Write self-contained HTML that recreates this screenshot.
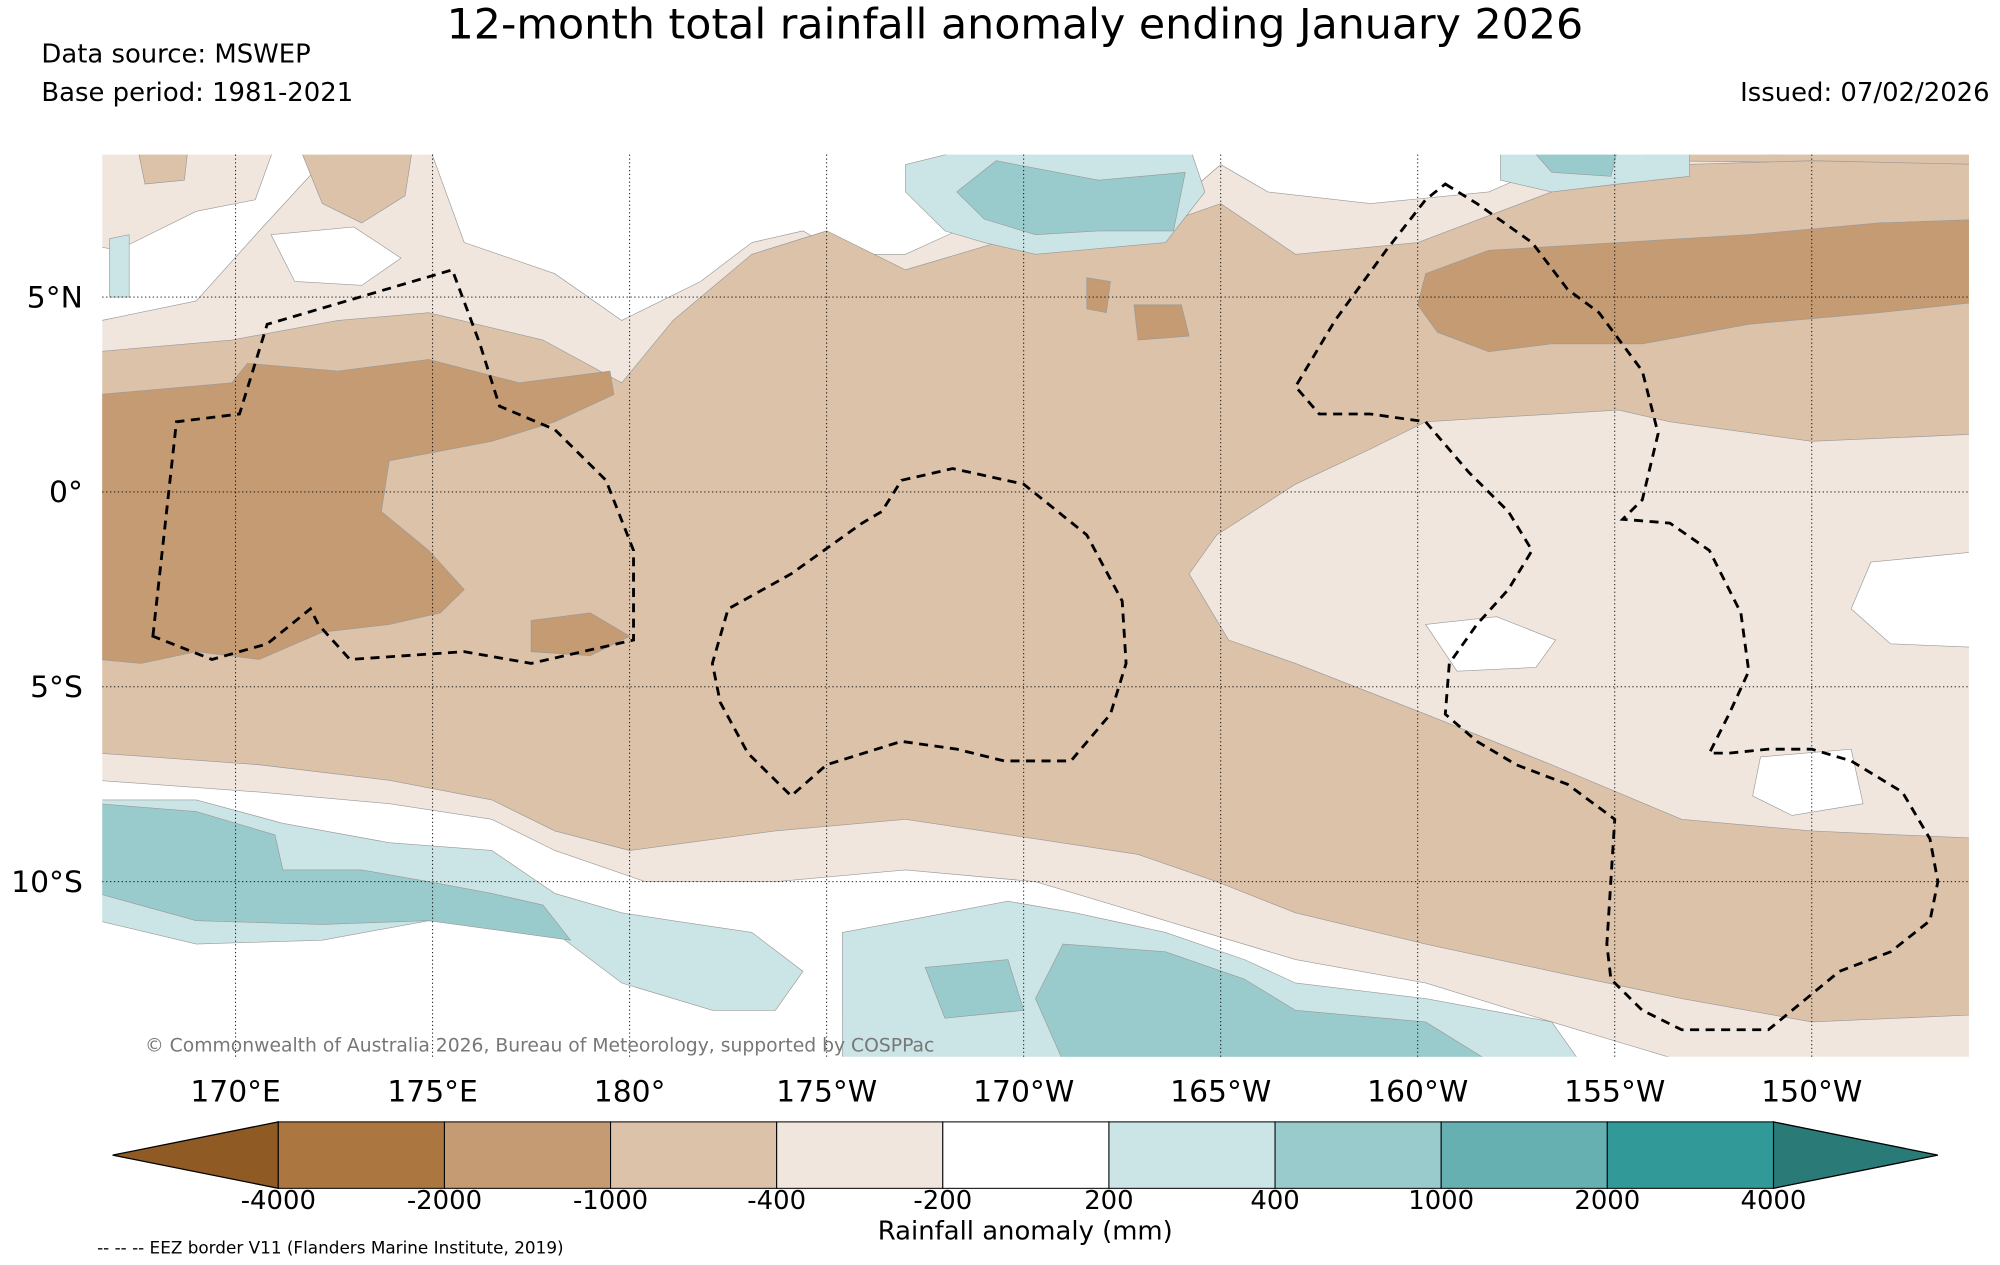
<!DOCTYPE html>
<html><head><meta charset="utf-8"><style>
html,body{margin:0;padding:0;background:#fff;}
svg{display:block;font-family:"DejaVu Sans","Liberation Sans",sans-serif;}
</style></head><body>
<svg id="chart" width="2000" height="1265" viewBox="0 0 1545 990" preserveAspectRatio="none" xmlns="http://www.w3.org/2000/svg">
<text x="784" y="30" font-size="33" text-anchor="middle">12-month total rainfall anomaly ending January 2026</text>
<text x="32" y="49" font-size="20">Data source: MSWEP</text>
<text x="32" y="79" font-size="20">Base period: 1981-2021</text>
<text x="1537" y="79" font-size="20" text-anchor="end">Issued: 07/02/2026</text>
<defs><clipPath id="mapclip"><rect x="79" y="121" width="1442" height="706"/></clipPath></defs>
<g id="map" clip-path="url(#mapclip)"><rect x="79" y="121" width="1442" height="706" fill="#fff"/></g>
<g id="grid"></g>
<g id="eez" clip-path="url(#mapclip)"></g>
<text x="112" y="823" font-size="14.5" fill="#777">© Commonwealth of Australia 2026, Bureau of Meteorology, supported by COSPPac</text>
<g id="xticks"></g>
<g id="yticks"></g>
<g id="cbar"></g>
<text x="792" y="970" font-size="20" text-anchor="middle">Rainfall anomaly (mm)</text>
<text x="75" y="981" font-size="13">-- -- -- EEZ border V11 (Flanders Marine Institute, 2019)</text>
</svg>
<script>
const lonTicks=[170,175,180,185,190,195,200,205,210];
const lonLabels=["170°E","175°E","180°","175°W","170°W","165°W","160°W","155°W","150°W"];
const latTicks=[5,0,-5,-10];
const latLabels=["5°N","0°","5°S","10°S"];
const cbarColors=["#ab7640","#c49b72","#dbc2a9","#f0e6dd","#ffffff","#cbe4e5","#9acbcc","#66b0b2","#319a98"];
const cbarLabels=["-4000","-2000","-1000","-400","-200","200","400","1000","2000","4000"];
const lightTanTopLeft=[[166.5,8.9],[171,8.9],[170.5,7.5],[169,7.2],[167,6.2],[166.5,6.3]];
const lightTan=[[166.6,4.4],[169,4.9],[170.6,6.7],[172.6,8.9],[174.9,8.9],[175.8,6.4],[178.1,5.6],[179.8,4.4],[181.8,5.4],[183.1,6.4],[184.4,6.7],[185.4,6.1],[187,6.1],[188.3,6.7],[190,6.9],[191.9,7.4],[194.2,7.7],[195,8.4],[196.2,7.7],[198.8,7.4],[201.8,7.7],[203.4,8.4],[214.5,8.9],[214.5,-14.6],[206.7,-14.6],[203.4,-13.6],[200.2,-12.6],[196.9,-12],[193.6,-11],[190.3,-10],[187,-9.7],[183.7,-10],[180.4,-10],[178.1,-9.2],[176.5,-8.4],[173.9,-8],[170.6,-7.7],[166.5,-7.4]];
const whiteHoles=[
[[200.2,-3.4],[202,-3.2],[203.5,-3.8],[203,-4.5],[201,-4.6]],
[[211.5,-1.8],[214.5,-1.5],[214.5,-4],[212,-3.9],[211,-3]],
[[208.7,-6.8],[211,-6.6],[211.3,-8],[209.5,-8.3],[208.5,-7.8]],
[[200.2,3.1],[201.4,3.3],[201.6,2.5],[200.6,2.3]],
[[170.9,6.6],[173,6.8],[174.2,6],[173.2,5.3],[171.5,5.4]]];
const medTanBlobs=[
[[171.6,8.9],[174.5,8.9],[174.3,7.6],[173.2,6.9],[172.2,7.4]],
[[167.5,8.9],[168.8,8.9],[168.7,8],[167.7,7.9]],
[[205.5,8.9],[214.5,8.9],[214.5,8.4],[206,8.5]]];
const medTan=[[166.5,3.6],[169.9,3.9],[172.6,4.4],[174.9,4.6],[177.8,3.9],[179.8,2.8],[181.1,4.4],[183.1,6.1],[185,6.7],[187,5.7],[190,6.6],[193.6,6.9],[195,7.4],[196.9,6.1],[200,6.4],[203.4,7.7],[206.7,8.4],[210,8.5],[214.5,8.4],[214.5,1.5],[210,1.3],[206.4,1.8],[205.1,2.1],[200.2,1.8],[198.8,1.1],[196.9,0.2],[194.9,-1.1],[194.2,-2.1],[195.2,-3.8],[196.9,-4.4],[200.2,-5.7],[203.4,-7],[206.7,-8.4],[210,-8.7],[214.5,-8.9],[214.5,-13.4],[210,-13.6],[206.7,-13],[203.4,-12.3],[200.2,-11.6],[196.9,-10.8],[194.9,-10],[192.9,-9.3],[190.3,-8.9],[187,-8.4],[183.7,-8.7],[180,-9.2],[178.1,-8.7],[176.5,-7.9],[173.9,-7.4],[170.6,-7],[166.5,-6.7]];
const darkTanLeft=[[166.5,2.5],[169.9,2.8],[170.3,3.3],[172.6,3.1],[174.9,3.4],[177.2,2.8],[179.5,3.1],[179.6,2.5],[178.1,1.8],[176.5,1.3],[173.9,0.8],[173.7,-0.5],[174.9,-1.5],[175.8,-2.5],[175.2,-3.1],[173.9,-3.4],[172.2,-3.6],[170.6,-4.3],[169,-4.1],[167.6,-4.4],[166.5,-4.3]];
const darkTanBlob=[[177.5,-3.3],[179,-3.1],[180,-3.7],[179,-4.2],[177.5,-4.1]];
const darkTanRight=[[200.2,5.6],[201.8,6.2],[205.1,6.4],[208.4,6.6],[211.7,6.9],[214.5,7],[214.5,4.9],[211.7,4.6],[208.4,4.3],[205.7,3.8],[203.4,3.8],[201.8,3.6],[200.5,4.1],[200,4.8]];
const darkSmall1=[[191.6,5.5],[192.2,5.4],[192.1,4.6],[191.6,4.7]];
const darkSmall2=[[192.8,4.8],[194,4.8],[194.2,4],[192.9,3.9]];
const tealTopLight=[[187,8.4],[189,8.9],[194.2,8.9],[194.6,7.7],[193.6,6.4],[190.3,6.1],[189,6.4],[188,6.7],[187,7.7]];
const tealTopMid=[[188.3,7.7],[189.3,8.5],[191.9,8],[194.1,8.2],[193.8,6.7],[191.9,6.7],[190.3,6.6],[189,7]];
const tealTRLight=[[202.1,8.9],[206.9,8.9],[206.9,8.1],[205.1,7.9],[203.4,7.7],[202.1,8]];
const tealTRMid=[[202.8,8.9],[205.1,8.9],[204.9,8.1],[203.4,8.2]];
const tealTLLight=[[166.8,6.5],[167.3,6.6],[167.3,5],[166.8,5]];
const tealBLLight=[[166.5,-7.9],[169,-7.9],[171.2,-8.5],[173.9,-9],[176.5,-9.2],[178.1,-10.3],[179.8,-10.8],[181.1,-11],[183.1,-11.3],[184.4,-12.3],[183.7,-13.3],[182.1,-13.3],[179.8,-12.6],[178.1,-11.3],[174.9,-11],[172.2,-11.5],[169,-11.6],[166.5,-11]];
const tealBLMid=[[166.5,-8],[169,-8.2],[171,-8.8],[171.2,-9.7],[173.2,-9.7],[174.9,-10],[176.5,-10.3],[177.8,-10.6],[178.5,-11.5],[174.9,-11],[172.2,-11.1],[169,-11],[166.5,-10.3]];
const tealBMLight=[[185.4,-11.3],[187,-11],[189.6,-10.5],[191.3,-10.8],[193.6,-11.3],[195.6,-12],[196.9,-12.6],[200.2,-13],[203.4,-13.6],[204.1,-14.6],[185.4,-14.6]];
const tealBMMid=[[191,-11.6],[193.6,-11.8],[195.6,-12.5],[196.9,-13.3],[200.2,-13.6],[201.8,-14.6],[191,-14.6],[190.3,-13]];
const tealBMBlob=[[187.5,-12.2],[189.6,-12],[190,-13.3],[188,-13.5]];
const eezGilbert=[[167.9,-3.7],[168.5,1.8],[170.1,2],[170.8,4.3],[175.5,5.7],[176.2,3.8],[176.7,2.2],[178.1,1.6],[179.4,0.3],[180.1,-1.5],[180.1,-3.8],[178.8,-4.1],[177.5,-4.4],[175.8,-4.1],[172.9,-4.3],[172.1,-3.4],[171.9,-3],[170.8,-3.9],[169.4,-4.3]];
const eezPhoenix=[[186.9,0.3],[188.2,0.6],[190,0.2],[191.6,-1.1],[192.5,-2.8],[192.6,-4.4],[192.2,-5.7],[191.2,-6.9],[189.5,-6.9],[188.3,-6.6],[186.9,-6.4],[185,-7],[184.1,-7.8],[183,-6.7],[182.3,-5.4],[182.1,-4.4],[182.5,-3],[184.1,-2.1],[185.9,-0.8],[186.4,-0.5]];
const eezLine=[[200.7,7.9],[201.5,7.4],[202.9,6.4],[203.8,5.2],[204.6,4.6],[205.7,3.1],[206.1,1.5],[205.7,-0.2],[205.2,-0.7],[206.4,-0.8],[207.4,-1.5],[208.2,-3.1],[208.4,-4.6],[207.9,-5.7],[207.4,-6.7],[207.9,-6.7],[208.9,-6.6],[210,-6.6],[211,-6.9],[212.3,-7.7],[213,-8.9],[213.2,-10],[213,-11],[212,-11.8],[210.7,-12.3],[209.5,-13.3],[208.9,-13.8],[206.7,-13.8],[205.7,-13.3],[204.9,-12.5],[204.8,-11.6],[205,-8.4],[203.8,-7.5],[202.5,-7],[201.5,-6.4],[200.7,-5.7],[200.8,-4.4],[201.5,-3.4],[202.3,-2.5],[202.9,-1.5],[202.3,-0.5],[201.3,0.5],[200.2,1.8],[198.8,2],[197.5,2],[196.9,2.7],[197.9,4.4],[199.2,6.2],[200.2,7.5]];

const NS="http://www.w3.org/2000/svg";
function xs(lon){return 182+(lon-170)*30.44;}
function ys(lat){return 385-lat*30.5;}
function pts(a){return a.map(p=>xs(p[0]).toFixed(1)+","+ys(p[1]).toFixed(1)).join(" ");}
const mapG=document.getElementById("map");
function poly(a,fill,name){
  const p=document.createElementNS(NS,"polygon");
  p.setAttribute("points",pts(a));p.setAttribute("fill",fill);
  p.setAttribute("stroke","#999");p.setAttribute("stroke-width","0.5");
  
  
  mapG.appendChild(p);
}
poly(lightTanTopLeft,"#f0e6dd","anomaly-region");
poly(lightTan,"#f0e6dd","anomaly-region");
whiteHoles.forEach(h=>poly(h,"#ffffff","anomaly-region"));
medTanBlobs.forEach(h=>poly(h,"#dbc2a9","anomaly-region"));
poly(medTan,"#dbc2a9","anomaly-region");
poly(darkTanLeft,"#c49b72","anomaly-region");
poly(darkTanBlob,"#c49b72","anomaly-region");
poly(darkTanRight,"#c49b72","anomaly-region");
poly(darkSmall1,"#c49b72","anomaly-region");
poly(darkSmall2,"#c49b72","anomaly-region");
poly(tealTopLight,"#cbe4e5","anomaly-region");
poly(tealTopMid,"#9acbcc","anomaly-region");
poly(tealTRLight,"#cbe4e5","anomaly-region");
poly(tealTRMid,"#9acbcc","anomaly-region");
poly(tealTLLight,"#cbe4e5","anomaly-region");
poly(tealBLLight,"#cbe4e5","anomaly-region");
poly(tealBLMid,"#9acbcc","anomaly-region");
poly(tealBMLight,"#cbe4e5","anomaly-region");
poly(tealBMMid,"#9acbcc","anomaly-region");
poly(tealBMBlob,"#9acbcc","anomaly-region");

const eezG=document.getElementById("eez");
[eezGilbert,eezPhoenix,eezLine].forEach(a=>{
  const p=document.createElementNS(NS,"polygon");
  p.setAttribute("points",pts(a));p.setAttribute("fill","none");
  p.setAttribute("stroke","#000");p.setAttribute("stroke-width","2.2");p.setAttribute("stroke-dasharray","7,5");
  
  
  eezG.appendChild(p);
});

const gridG=document.getElementById("grid"),xt=document.getElementById("xticks"),yt=document.getElementById("yticks");
lonTicks.forEach((l,i)=>{
  const ln=document.createElementNS(NS,"line");
  ln.setAttribute("x1",xs(l));ln.setAttribute("x2",xs(l));ln.setAttribute("y1",121);ln.setAttribute("y2",827);
  ln.setAttribute("stroke","#000");ln.setAttribute("stroke-width","0.7");ln.setAttribute("stroke-dasharray","1,2");
  
  
  gridG.appendChild(ln);
  const t=document.createElementNS(NS,"text");
  t.setAttribute("x",xs(l));t.setAttribute("y",862);t.setAttribute("font-size","23");t.setAttribute("text-anchor","middle");
  t.textContent=lonLabels[i];
  
  
  xt.appendChild(t);
});
latTicks.forEach((l,i)=>{
  const ln=document.createElementNS(NS,"line");
  ln.setAttribute("x1",79);ln.setAttribute("x2",1521);ln.setAttribute("y1",ys(l));ln.setAttribute("y2",ys(l));
  ln.setAttribute("stroke","#000");ln.setAttribute("stroke-width","0.7");ln.setAttribute("stroke-dasharray","1,2");
  
  
  gridG.appendChild(ln);
  const t=document.createElementNS(NS,"text");
  t.setAttribute("x",64);t.setAttribute("y",ys(l)+8);t.setAttribute("font-size","23");t.setAttribute("text-anchor","end");
  t.textContent=latLabels[i];
  
  
  yt.appendChild(t);
});

const cb=document.getElementById("cbar");
const cx0=215,cw=128.33,cy0=878,ch=52;
const lt=document.createElementNS(NS,"polygon");
lt.setAttribute("points",`${cx0},${cy0} 87,${cy0+ch/2} ${cx0},${cy0+ch}`);lt.setAttribute("fill","#8f5a24");lt.setAttribute("stroke","#000");


cb.appendChild(lt);
const rx=cx0+cw*cbarColors.length;
const rt=document.createElementNS(NS,"polygon");
rt.setAttribute("points",`${rx},${cy0} 1497,${cy0+ch/2} ${rx},${cy0+ch}`);rt.setAttribute("fill","#2a7a78");rt.setAttribute("stroke","#000");


cb.appendChild(rt);
cbarColors.forEach((c,i)=>{
  const r=document.createElementNS(NS,"rect");
  r.setAttribute("x",cx0+cw*i);r.setAttribute("y",cy0);r.setAttribute("width",cw);r.setAttribute("height",ch);
  r.setAttribute("fill",c);r.setAttribute("stroke","#000");r.setAttribute("stroke-width","0.8");
  
  
  cb.appendChild(r);
});
cbarLabels.forEach((s,i)=>{
  const t=document.createElementNS(NS,"text");
  t.setAttribute("x",cx0+cw*i);t.setAttribute("y",946);t.setAttribute("font-size","20");t.setAttribute("text-anchor","middle");
  t.textContent=s;
  
  
  cb.appendChild(t);
});
</script>
</body></html>
